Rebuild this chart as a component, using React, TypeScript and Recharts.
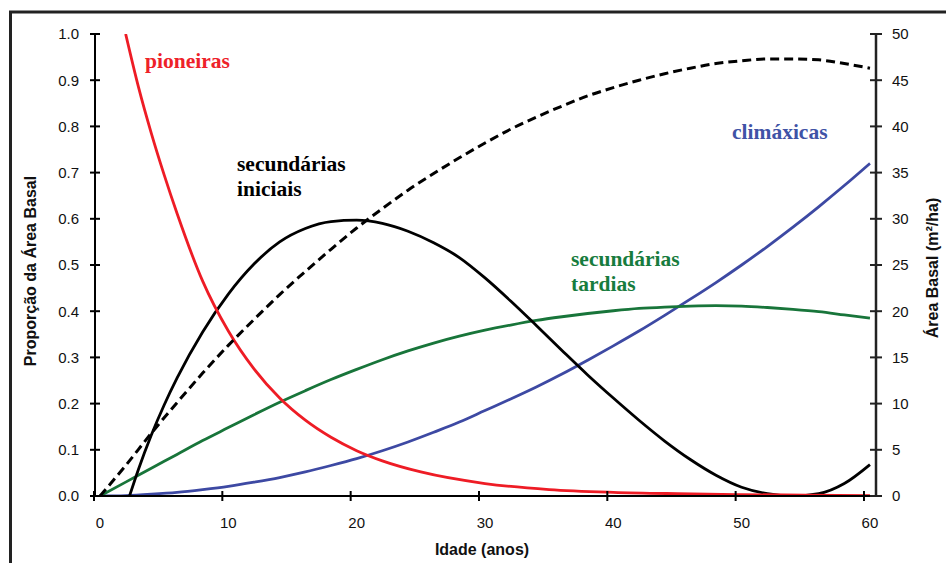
import { LineChart, Line, XAxis, YAxis } from "recharts";

// idade (anos) usada pelas curvas de tardias, climáxicas e área basal
const ages = [0, 2, 4, 6, 8, 10, 12, 14, 16, 18, 20, 22, 24, 26, 28, 30, 32, 34, 36, 38, 40, 42, 44, 46, 48, 50, 52, 54, 56, 58, 60];
const areaBasal = [0, 3.3, 6.8, 10.1, 13.3, 16.3, 19.1, 21.8, 24.3, 26.7, 29.0, 31.1, 33.1, 34.9, 36.6, 38.2, 39.7, 41.0, 42.2, 43.3, 44.2, 45.0, 45.7, 46.3, 46.8, 47.1, 47.3, 47.3, 47.2, 46.8, 46.3];
const tardias = [0, 0.03, 0.06, 0.09, 0.12, 0.148, 0.176, 0.203, 0.228, 0.252, 0.274, 0.295, 0.314, 0.331, 0.346, 0.359, 0.37, 0.38, 0.388, 0.395, 0.401, 0.406, 0.409, 0.411, 0.412, 0.411, 0.408, 0.404, 0.399, 0.392, 0.385];
const climaxicas = [0, 0.001, 0.004, 0.008, 0.014, 0.021, 0.03, 0.04, 0.052, 0.066, 0.081, 0.098, 0.117, 0.138, 0.16, 0.185, 0.21, 0.236, 0.264, 0.294, 0.325, 0.357, 0.391, 0.426, 0.462, 0.5, 0.54, 0.582, 0.626, 0.672, 0.72];

const pioneirasAges = [2, 3, 4, 5, 6, 8, 10, 12, 14, 16, 18, 20, 22, 25, 30, 35, 40, 45, 50, 55, 60];
const pioneiras = [1.0, 0.885, 0.785, 0.695, 0.612, 0.465, 0.357, 0.275, 0.212, 0.164, 0.127, 0.098, 0.076, 0.052, 0.027, 0.014, 0.008, 0.005, 0.003, 0.002, 0.001];

const iniciaisAges = [2.3, 3, 4, 5, 6, 8, 10, 12, 14, 16, 18, 20, 22, 24, 26, 28, 30, 32, 34, 36, 38, 40, 42, 44, 46, 48, 50, 52, 54, 56, 58, 60];
const iniciais = [0, 0.058, 0.132, 0.197, 0.255, 0.355, 0.437, 0.502, 0.55, 0.579, 0.594, 0.597, 0.59, 0.573, 0.548, 0.516, 0.472, 0.422, 0.369, 0.315, 0.262, 0.212, 0.164, 0.119, 0.079, 0.045, 0.019, 0.005, 0, 0.005, 0.027, 0.068];

const xTicks = [0, 10, 20, 30, 40, 50, 60];
const leftTicks = [0, 0.1, 0.2, 0.3, 0.4, 0.5, 0.6, 0.7, 0.8, 0.9, 1.0];
const rightTicks = [0, 5, 10, 15, 20, 25, 30, 35, 40, 45, 50];

const SANS = "'Liberation Sans', Arial, sans-serif";
const SERIF = "'Liberation Serif', 'Times New Roman', serif";

const toPoints = (xs: number[], vs: number[]) => xs.map((t, i) => ({ t, v: vs[i] }));

function XTick({ x, y, payload }: any) {
  return (
    <g>
      <line x1={x - 6} x2={x - 6} y1={y - 5} y2={y + 5} stroke="#000" strokeWidth={2} />
      <text x={x} y={y + 32} textAnchor="middle" fontSize={15} fontFamily={SANS} fill="#111">
        {payload.value}
      </text>
    </g>
  );
}

function LeftTick({ x, y, payload }: any) {
  return (
    <g>
      <line x1={x - 5} x2={x + 5} y1={y} y2={y} stroke="#000" strokeWidth={2} />
      <text x={x - 16} y={y} dy="0.36em" textAnchor="end" fontSize={15} fontFamily={SANS} fill="#111">
        {payload.value.toFixed(1)}
      </text>
    </g>
  );
}

function RightTick({ x, y, payload }: any) {
  return (
    <g>
      <line x1={x - 6} x2={x + 6} y1={y} y2={y} stroke="#222" strokeWidth={2} />
      <text x={x + 16} y={y} dy="0.36em" textAnchor="start" fontSize={15} fontFamily={SANS} fill="#111">
        {payload.value}
      </text>
    </g>
  );
}

export default function App() {
  return (
    <div style={{ position: "absolute", left: 0, top: 0, width: 946, height: 563, overflow: "hidden", background: "#fff" }}>
      <LineChart width={946} height={563} margin={{ top: 34, right: 10, bottom: 37, left: 35 }}>
        <XAxis
          xAxisId="x"
          type="number"
          dataKey="t"
          domain={[-0.39, 60.47]}
          ticks={xTicks}
          height={30}
          tickSize={0}
          tickMargin={0}
          tickLine={false}
          axisLine={{ stroke: "#000", strokeWidth: 2 }}
          tick={<XTick />}
          allowDataOverflow
        />
        <YAxis
          yAxisId="left"
          type="number"
          domain={[0, 1]}
          ticks={leftTicks}
          width={60}
          tickSize={0}
          tickMargin={0}
          tickLine={false}
          axisLine={{ stroke: "#000", strokeWidth: 2 }}
          tick={<LeftTick />}
          allowDataOverflow
        />
        <YAxis
          yAxisId="right"
          orientation="right"
          type="number"
          domain={[0, 50]}
          ticks={rightTicks}
          width={60}
          tickSize={0}
          tickMargin={0}
          tickLine={false}
          axisLine={{ stroke: "#222", strokeWidth: 2.5 }}
          tick={<RightTick />}
          allowDataOverflow
        />
        <Line
          xAxisId="x"
          yAxisId="left"
          data={toPoints(ages, climaxicas)}
          dataKey="v"
          type="monotone"
          stroke="#3d49a3"
          strokeWidth={2.8}
          dot={false}
          isAnimationActive={false}
        />
        <Line
          xAxisId="x"
          yAxisId="left"
          data={toPoints(ages, tardias)}
          dataKey="v"
          type="monotone"
          stroke="#18753a"
          strokeWidth={2.8}
          dot={false}
          isAnimationActive={false}
        />
        <Line
          xAxisId="x"
          yAxisId="left"
          data={toPoints(iniciaisAges, iniciais)}
          dataKey="v"
          type="monotone"
          stroke="#000"
          strokeWidth={2.8}
          dot={false}
          isAnimationActive={false}
        />
        <Line
          xAxisId="x"
          yAxisId="left"
          data={toPoints(pioneirasAges, pioneiras)}
          dataKey="v"
          type="monotone"
          stroke="#ee1c25"
          strokeWidth={2.8}
          dot={false}
          isAnimationActive={false}
        />
        <Line
          xAxisId="x"
          yAxisId="right"
          data={toPoints(ages, areaBasal)}
          dataKey="v"
          type="monotone"
          stroke="#000"
          strokeWidth={3}
          strokeDasharray="9 5"
          dot={false}
          isAnimationActive={false}
        />
      </LineChart>

      <svg width={946} height={563} style={{ position: "absolute", left: 0, top: 0, pointerEvents: "none" }}>
        <path d="M10.5 563 V12 H946" fill="none" stroke="#222" strokeWidth={3} />

        <text x={145} y={68} fontFamily={SERIF} fontWeight="bold" fontSize={21.5} fill="#ee2129">pioneiras</text>
        <text x={237} y={171} fontFamily={SERIF} fontWeight="bold" fontSize={21.5} fill="#000">secundárias</text>
        <text x={237} y={196} fontFamily={SERIF} fontWeight="bold" fontSize={21.5} fill="#000">iniciais</text>
        <text x={732} y={139} fontFamily={SERIF} fontWeight="bold" fontSize={21.5} fill="#3f53a6">climáxicas</text>
        <text x={571} y={266} fontFamily={SERIF} fontWeight="bold" fontSize={21.5} fill="#177c3e">secundárias</text>
        <text x={571} y={291} fontFamily={SERIF} fontWeight="bold" fontSize={21.5} fill="#177c3e">tardias</text>

        <text x={482} y={555} textAnchor="middle" fontFamily={SANS} fontWeight="bold" fontSize={16} fill="#111">Idade (anos)</text>
        <text transform="translate(36 271) rotate(-90)" textAnchor="middle" fontFamily={SANS} fontWeight="bold" fontSize={16} fill="#111">
          Proporção da Área Basal
        </text>
        <text transform="translate(938 268) rotate(-90)" textAnchor="middle" fontFamily={SANS} fontWeight="bold" fontSize={16} fill="#111">
          Área Basal (m²/ha)
        </text>
      </svg>
    </div>
  );
}
